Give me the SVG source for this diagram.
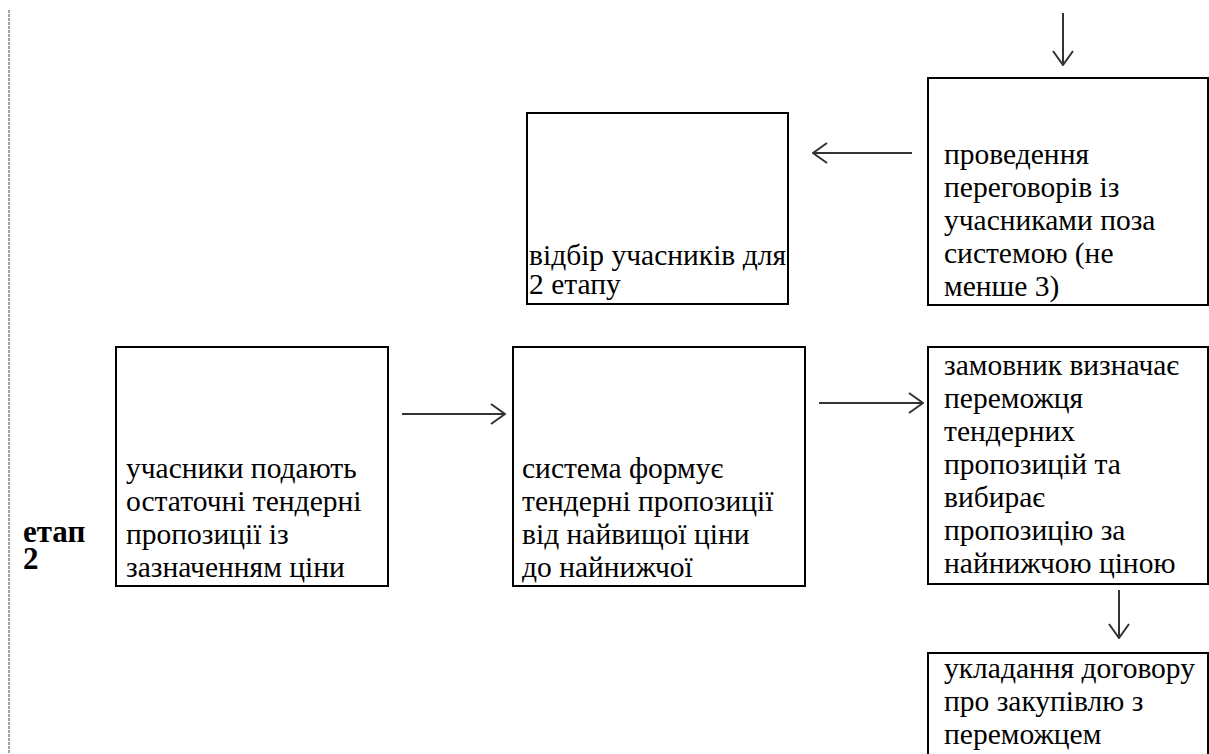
<svg xmlns="http://www.w3.org/2000/svg" width="1209" height="754" viewBox="0 0 1209 754">
<style>
  .box { fill: #ffffff; stroke: #000000; stroke-width: 2; }
  text { font-family: "Liberation Serif", "Times New Roman", Tinos, "DejaVu Serif", serif; font-size: 29.5px; fill: #000000; }
  .b { font-weight: bold; font-size: 31px; }
  .arr { stroke: #333333; stroke-width: 2; fill: none; marker-end: url(#head); }
</style>
<defs>
  <marker id="head" viewBox="0 0 16 22" refX="15" refY="11" markerWidth="16" markerHeight="22" markerUnits="userSpaceOnUse" orient="auto">
    <path d="M1,1 L15,11 L1,21" fill="none" stroke="#333333" stroke-width="2"/>
  </marker>
</defs>
<rect x="0" y="0" width="1209" height="754" fill="#ffffff"/>
<line x1="9" y1="10" x2="9" y2="754" stroke="#444444" stroke-width="1" stroke-dasharray="3 1"/>
<g id="label-stage2">
  <text class="b" x="23" y="542">етап</text>
  <text class="b" x="23" y="569">2</text>
</g>
<g id="node-negotiations">
  <rect class="box" x="928" y="78" width="280" height="227"/>
  <text x="944" y="164">проведення</text>
  <text x="944" y="197">переговорів із</text>
  <text x="944" y="230">учасниками поза</text>
  <text x="944" y="263">системою (не</text>
  <text x="944" y="296">менше 3)</text>
</g>
<g id="node-selection">
  <rect class="box" x="527" y="113" width="261" height="191"/>
  <text x="529" y="265" font-size="29">відбір учасників для</text>
  <text x="529" y="294" font-size="29">2 етапу</text>
</g>
<g id="node-submit">
  <rect class="box" x="116" y="347" width="272" height="239"/>
  <text x="126" y="478">учасники подають</text>
  <text x="126" y="511">остаточні тендерні</text>
  <text x="126" y="544">пропозиції із</text>
  <text x="126" y="577">зазначенням ціни</text>
</g>
<g id="node-system">
  <rect class="box" x="513" y="347" width="292" height="239"/>
  <text x="522" y="478">система формує</text>
  <text x="522" y="511">тендерні пропозиції</text>
  <text x="522" y="544">від найвищої ціни</text>
  <text x="522" y="577">до найнижчої</text>
</g>
<g id="node-winner">
  <rect class="box" x="928" y="347" width="280" height="237"/>
  <text x="944" y="375">замовник визначає</text>
  <text x="944" y="408">переможця</text>
  <text x="944" y="441">тендерних</text>
  <text x="944" y="474">пропозицій та</text>
  <text x="944" y="507">вибирає</text>
  <text x="944" y="540">пропозицію за</text>
  <text x="944" y="573">найнижчою ціною</text>
</g>
<g id="node-contract">
  <rect class="box" x="928" y="653" width="280" height="110"/>
  <text x="944" y="678">укладання договору</text>
  <text x="944" y="711">про закупівлю з</text>
  <text x="944" y="744">переможцем</text>
</g>
<g id="connectors">
  <line class="arr" x1="1063" y1="13" x2="1063" y2="65"/>
  <line class="arr" x1="912" y1="153" x2="813" y2="153"/>
  <line class="arr" x1="402" y1="414" x2="505" y2="414"/>
  <line class="arr" x1="819" y1="403" x2="923" y2="403"/>
  <line class="arr" x1="1119" y1="590" x2="1119" y2="638"/>
</g>
</svg>
